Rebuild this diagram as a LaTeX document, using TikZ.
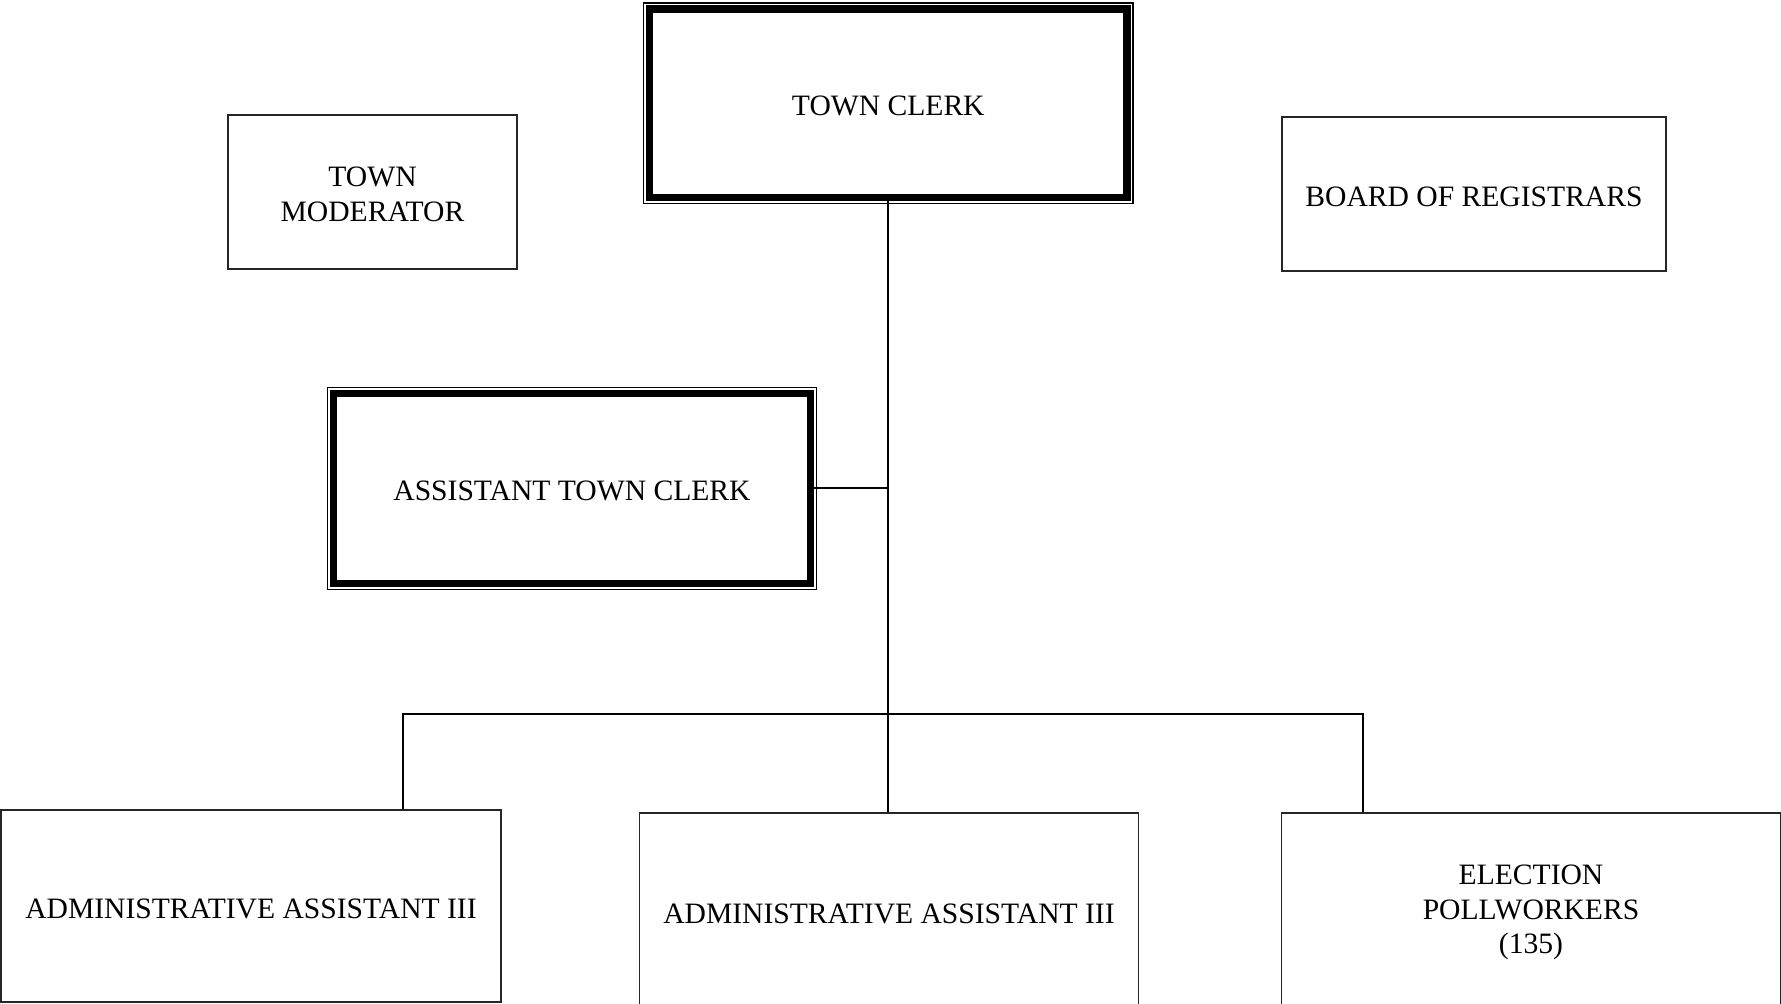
\documentclass[tikz,border=0pt]{standalone}
\usepackage{fontspec}
\setmainfont{Liberation Serif}
\begin{document}
\begin{tikzpicture}[x=1pt,y=-1pt,
  every node/.style={font=\fontsize{29.6}{34.5}\selectfont, align=center, inner sep=0pt},
  plainbox/.style={draw=black!85, line width=1.4pt, fill=white},
  mainbox/.style={draw=black, line width=7.5pt},
  thinframe/.style={draw=black, line width=1.3pt},
  conn/.style={draw=black, line width=2pt},
  txt/.style={label={[yshift=-2.5pt]center:{#1}}}]
\useasboundingbox (0,0) rectangle (1781,1004);
\fill[white] (0,0) rectangle (1781,1004);

% main boxes with thick-thin border
\node[mainbox, minimum width=477.5pt, minimum height=188.5pt, txt={TOWN CLERK}] (tc) at (888.3,103.3) {};
\draw[thinframe] ([shift={(-2.3,-2.3)}]tc.north west) rectangle ([shift={(2.3,2.3)}]tc.south east);

\node[mainbox, minimum width=477pt, minimum height=190pt, txt={ASSISTANT TOWN CLERK}] (atc) at (572,488.4) {};
\draw[thinframe] ([shift={(-2.3,-2.3)}]atc.north west) rectangle ([shift={(2.3,2.3)}]atc.south east);

% side boxes
\node[plainbox, minimum width=289pt, minimum height=154pt, txt={TOWN\\MODERATOR}] (mod) at (372.5,192) {};
\node[plainbox, minimum width=384pt, minimum height=154pt, txt={BOARD OF REGISTRARS}] (reg) at (1474,194) {};

% bottom boxes
\node[plainbox, minimum width=500pt, minimum height=192pt, txt={ADMINISTRATIVE ASSISTANT III}] (aa1) at (251,906) {};
\node[plainbox, minimum width=499pt, minimum height=196pt, txt={ADMINISTRATIVE ASSISTANT III}] (aa2) at (889,911) {};
\node[plainbox, minimum width=499pt, minimum height=194pt, txt={ELECTION\\POLLWORKERS\\(135)}] (pw) at (1531,910) {};

% connectors
\coordinate (busL) at (403,714);
\coordinate (busR) at (1363,714);
\draw[conn] (tc.south) -- (tc.south |- aa2.north);
\draw[conn] (atc.east) -- (atc.east -| tc.south);
\draw[conn] (aa1.north -| busL) -- (busL) -- (busR) -- (pw.north -| busR);
\end{tikzpicture}
\end{document}
